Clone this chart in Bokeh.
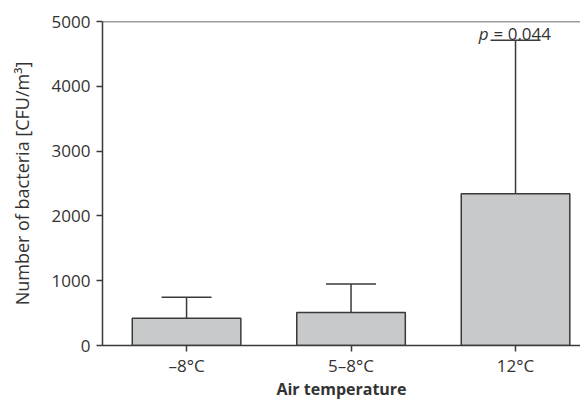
from bokeh.plotting import figure
from bokeh.models import ColumnDataSource, Span, FixedTicker, Range1d
from bokeh.core.properties import value
from bokeh.embed import file_html
from bokeh.resources import INLINE

categories = ["–8°C", "5–8°C", "12°C"]
means = [420, 510, 2340]
upper = [745, 950, 4710]
y_ticks = [0, 1000, 2000, 3000, 4000, 5000]
p_italic = "p"
p_rest = "= 0.044"
p_y = 4820

FONT = "Open Sans"
TXT = "#333333"
LINE = "#3a3a3a"

xs = list(range(len(categories)))
cap = 0.152
src = ColumnDataSource(dict(x=xs, top=means, upper=upper,
                            cl=[x - cap for x in xs], cr=[x + cap for x in xs]))

p = figure(width=580, height=402, output_backend="svg", toolbar_location=None,
           x_range=Range1d(-0.511, 2.395), y_range=Range1d(0, 5000),
           min_border_left=102, min_border_right=0, min_border_top=21, min_border_bottom=50)
p.outline_line_color = None
p.grid.visible = False
p.background_fill_color = "white"

p.segment(x0="x", y0="top", x1="x", y1="upper", source=src, line_color=LINE, line_width=1.5)
p.segment(x0="cl", y0="upper", x1="cr", y1="upper", source=src, line_color=LINE, line_width=1.5)
p.vbar(x="x", top="top", bottom=0, width=0.66, source=src,
       fill_color="#c8c9cb", line_color=LINE, line_width=1.5)

p.add_layout(Span(location=5000, dimension="width", line_color=LINE, line_width=1.5))

p.text(x=[xs[2]], y=[p_y], text=[p_italic], text_font=value(FONT), text_font_size="17px",
       text_font_style="italic", text_align="right", text_baseline="middle",
       x_offset=-27, text_color=TXT)
p.text(x=[xs[2]], y=[p_y], text=[p_rest], text_font=value(FONT), text_font_size="17px",
       text_align="left", text_baseline="middle", x_offset=-22, text_color=TXT)

for ax in (p.xaxis[0], p.yaxis[0]):
    ax.axis_line_color = LINE
    ax.axis_line_width = 1.5
    ax.major_tick_line_color = LINE
    ax.major_tick_line_width = 1.5
    ax.major_tick_out = 6
    ax.major_tick_in = 0
    ax.minor_tick_line_color = None
    ax.major_label_text_font = FONT
    ax.major_label_text_font_size = "17px"
    ax.major_label_text_color = TXT
    ax.axis_label_text_font = FONT
    ax.axis_label_text_color = TXT

p.xaxis.ticker = FixedTicker(ticks=xs)
p.xaxis.major_label_overrides = {i: c for i, c in zip(xs, categories)}
p.xaxis.axis_label = "Air temperature"
p.xaxis.axis_label_text_font_size = "16px"
p.xaxis.axis_label_text_font_style = "bold"
p.xaxis.major_label_standoff = 2
p.xaxis.axis_label_standoff = -2

p.yaxis.ticker = FixedTicker(ticks=y_ticks)
p.yaxis.axis_label = "Number of bacteria [CFU/m³]"
p.yaxis.axis_label_text_font_size = "18px"
p.yaxis.axis_label_text_font_style = "normal"
p.yaxis.major_label_standoff = 6
p.yaxis.axis_label_standoff = 15

open("out.html", "w").write(file_html(p, INLINE))
